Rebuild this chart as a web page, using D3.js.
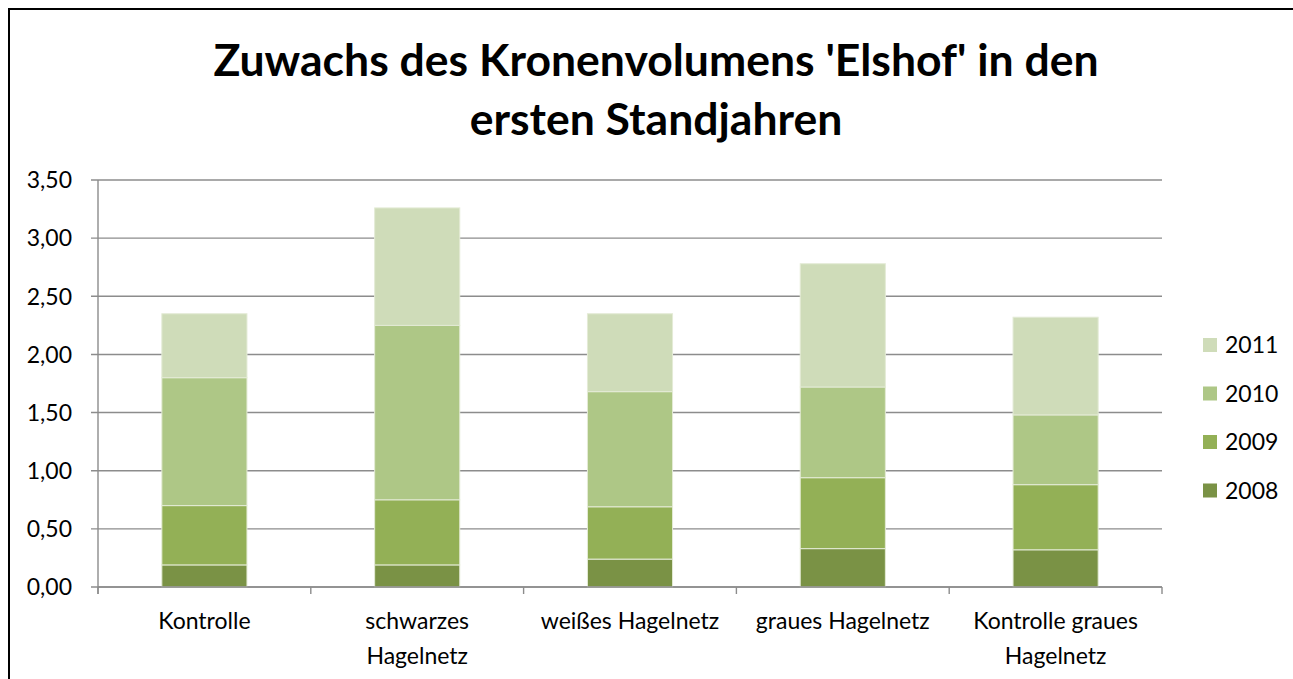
<!DOCTYPE html>
<html>
<head>
<meta charset="utf-8">
<script src="https://cdn.jsdelivr.net/npm/d3@7"></script>
<style>
  body { margin: 0; background: #fff; }
  svg text { font-family: Lato, "Open Sans", sans-serif; fill: #000; }
</style>
</head>
<body>
<div id="chart"></div>
<script>
// data
const categories = ["Kontrolle", "schwarzes Hagelnetz", "weißes Hagelnetz", "graues Hagelnetz", "Kontrolle graues Hagelnetz"];
const categoryLines = [["Kontrolle"], ["schwarzes", "Hagelnetz"], ["weißes Hagelnetz"], ["graues Hagelnetz"], ["Kontrolle graues", "Hagelnetz"]];
const years = ["2008", "2009", "2010", "2011"];
const v2008 = [0.19, 0.19, 0.24, 0.33, 0.32];
const v2009 = [0.51, 0.56, 0.45, 0.61, 0.56];
const v2010 = [1.10, 1.50, 0.99, 0.78, 0.60];
const v2011 = [0.55, 1.01, 0.67, 1.06, 0.84];
const yTicks = [0, 0.5, 1, 1.5, 2, 2.5, 3, 3.5];
const colors = ["#7a9245", "#93b056", "#aec786", "#cfdcb9"];

const width = 1293, height = 679;
const svg = d3.select("#chart").append("svg")
    .attr("width", width)
    .attr("height", height);

// chart frame (runs off the right and bottom edge)
svg.append("rect")
    .attr("x", 9).attr("y", 9)
    .attr("width", width + 20).attr("height", height + 20)
    .attr("fill", "none")
    .attr("stroke", "#000")
    .attr("stroke-width", 2);

const margin = {left: 98, right: 131, top: 180, bottom: 92};
const plotW = width - margin.left - margin.right;
const plotH = height - margin.top - margin.bottom;

const x = d3.scaleBand().domain(categories).range([margin.left, margin.left + plotW]).paddingInner(0.6).paddingOuter(0.3);
const xTickScale = d3.scaleLinear().domain([0, categories.length]).range([margin.left, margin.left + plotW]);
const y = d3.scaleLinear().domain([0, 3.5]).range([margin.top + plotH, margin.top]);

// title
const title = svg.append("text")
    .attr("text-anchor", "middle")
    .style("font-size", "44.5px")
    .style("font-weight", "bold");
title.append("tspan").attr("x", 656).attr("y", 76).text("Zuwachs des Kronenvolumens 'Elshof' in den");
title.append("tspan").attr("x", 656).attr("y", 135).text("ersten Standjahren");

// gridlines
svg.append("g")
    .selectAll("line")
    .data(yTicks)
    .join("line")
    .attr("x1", margin.left - 7)
    .attr("x2", margin.left + plotW)
    .attr("y1", d => y(d))
    .attr("y2", d => y(d))
    .attr("stroke", "#8c8c8c")
    .attr("stroke-width", 1.4);

// y tick labels
svg.append("g")
    .selectAll("text")
    .data(yTicks)
    .join("text")
    .attr("x", 72)
    .attr("y", d => y(d))
    .attr("dy", "0.36em")
    .attr("text-anchor", "end")
    .style("font-size", "23px")
    .text(d => d3.format(".2f")(d).replace(".", ","));

// stacked bars
const rows = categories.map((c, i) => ({cat: c, "2008": v2008[i], "2009": v2009[i], "2010": v2010[i], "2011": v2011[i]}));
const series = d3.stack().keys(years)(rows);

svg.append("g")
    .selectAll("g")
    .data(series)
    .join("g")
    .attr("fill", (d, i) => colors[i])
    .selectAll("rect")
    .data(d => d)
    .join("rect")
    .attr("x", d => x(d.data.cat))
    .attr("width", x.bandwidth())
    .attr("y", d => y(d[1]))
    .attr("height", d => y(d[0]) - y(d[1]))
    .attr("stroke", "#e4ebd6")
    .attr("stroke-width", 1);

// axes lines
svg.append("line")
    .attr("x1", margin.left).attr("x2", margin.left)
    .attr("y1", margin.top).attr("y2", y(0) + 7)
    .attr("stroke", "#8c8c8c").attr("stroke-width", 1.4);
svg.append("line")
    .attr("x1", margin.left).attr("x2", margin.left + plotW)
    .attr("y1", y(0)).attr("y2", y(0))
    .attr("stroke", "#8c8c8c").attr("stroke-width", 1.4);

svg.append("g")
    .selectAll("line")
    .data(d3.range(categories.length + 1))
    .join("line")
    .attr("x1", d => xTickScale(d))
    .attr("x2", d => xTickScale(d))
    .attr("y1", y(0))
    .attr("y2", y(0) + 7)
    .attr("stroke", "#8c8c8c").attr("stroke-width", 1.4);

// category labels
const catLabels = svg.append("g")
    .selectAll("text")
    .data(categories)
    .join("text")
    .attr("text-anchor", "middle")
    .style("font-size", "23px");
catLabels.each(function(d, i) {
    d3.select(this).selectAll("tspan")
        .data(categoryLines[i])
        .join("tspan")
        .attr("x", x(d) + x.bandwidth() / 2)
        .attr("y", (t, j) => 629 + j * 35)
        .text(t => t);
});

// legend
const legend = svg.append("g")
    .selectAll("g")
    .data(years.slice().reverse())
    .join("g")
    .attr("transform", (d, i) => `translate(1203, ${345 + i * 48.5})`);
legend.append("rect")
    .attr("x", 0).attr("y", -7)
    .attr("width", 14).attr("height", 14)
    .attr("fill", d => colors[years.indexOf(d)]);
legend.append("text")
    .attr("x", 22)
    .attr("dy", "0.36em")
    .style("font-size", "23px")
    .text(d => d);
</script>
</body>
</html>
